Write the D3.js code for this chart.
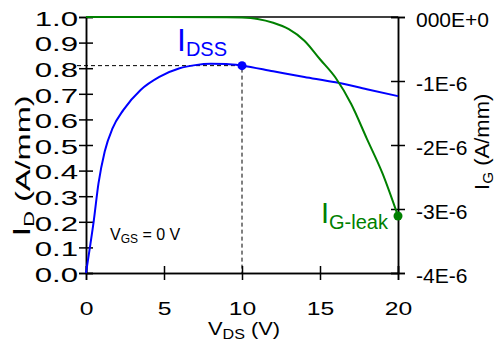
<!DOCTYPE html>
<html>
<head>
<meta charset="utf-8">
<script src="https://cdn.jsdelivr.net/npm/d3@7"></script>
<style>
  html, body { margin: 0; padding: 0; background: #fff; }
  svg { display: block; font-family: "Liberation Sans", Arial, sans-serif; }
</style>
</head>
<body>
<svg id="chart" width="496" height="343"></svg>
<script>
// Drain current vs drain voltage (left axis) and gate leakage (right axis)
const vds = [0, 0.25, 0.5, 0.8, 1.2, 1.7, 2.4, 3.5, 4.7, 6, 7, 8, 9, 10, 12, 14, 16, 18, 20];
const idValues = [0, 0.1, 0.205, 0.35, 0.475, 0.565, 0.637, 0.715, 0.766, 0.8, 0.812, 0.817, 0.816, 0.81, 0.788, 0.766, 0.745, 0.718, 0.691];

const vdsGate = [0, 5, 9, 10, 11, 12, 13, 14, 15, 16, 17, 18, 19, 20];
const igValues = [0, 0, -0.003, -0.008, -0.03, -0.09, -0.19, -0.37, -0.66, -0.95, -1.36, -1.9, -2.44, -3.11]; // units of 1E-6 A/mm

const xTicks = [0, 5, 10, 15, 20];
const yLeftTicks = [0, 0.1, 0.2, 0.3, 0.4, 0.5, 0.6, 0.7, 0.8, 0.9, 1.0];
const yRightTicks = [0, -1, -2, -3, -4];
const yRightLabels = ["000E+0", "-1E-6", "-2E-6", "-3E-6", "-4E-6"];

const idssPoint = { v: 10, i: 0.81 };
const igLeakPoint = { v: 20, i: -3.11 };

const blue = "#0000ff";
const green = "#008000";

const svg = d3.select("#chart");
svg.append("rect").attr("width", 496).attr("height", 343).attr("fill", "#fff");

const x = d3.scaleLinear().domain([0, 20]).range([86, 398]);
const yL = d3.scaleLinear().domain([0, 1]).range([273, 17]);
const yR = d3.scaleLinear().domain([-4, 0]).range([273, 17]);

const axisColor = "#000";

function styleAxis(g) {
  g.selectAll(".domain").attr("stroke", axisColor).attr("stroke-width", 1.5);
  g.selectAll(".tick line").attr("stroke", axisColor).attr("stroke-width", 1.5);
  g.selectAll("text").attr("fill", "#000").attr("font-family", "Liberation Sans, Arial, sans-serif");
}

// top frame line
svg.append("line")
  .attr("x1", x(0)).attr("x2", x(20))
  .attr("y1", yL(1)).attr("y2", yL(1))
  .attr("stroke", axisColor).attr("stroke-width", 1.5);

// left axis: outward ticks with labels, then inward ticks
const gL = svg.append("g").attr("transform", `translate(${x(0)},0)`)
  .call(d3.axisLeft(yL).tickValues(yLeftTicks).tickSize(7).tickFormat(d3.format(".1f")));
gL.call(styleAxis);
gL.selectAll("text")
  .attr("font-size", 19.5)
  .attr("x", -8 / 1.6)
  .attr("dy", "0.43em")
  .attr("transform", "scale(1.6,1)");
const gL2 = svg.append("g").attr("transform", `translate(${x(0)},0)`)
  .call(d3.axisLeft(yL).tickValues(yLeftTicks).tickSize(-7).tickFormat(""));
gL2.call(styleAxis);

// bottom axis
const gB = svg.append("g").attr("transform", `translate(0,${yL(0)})`)
  .call(d3.axisBottom(x).tickValues(xTicks).tickSize(7).tickFormat(d3.format("d")));
gB.call(styleAxis);
gB.selectAll("text")
  .attr("font-size", 19)
  .attr("y", 42)
  .attr("dy", 0)
  .attr("transform", "scale(1.3,1)");
const gB2 = svg.append("g").attr("transform", `translate(0,${yL(0)})`)
  .call(d3.axisBottom(x).tickValues(xTicks).tickSize(-7).tickFormat(""));
gB2.call(styleAxis);

// right axis
const gR = svg.append("g").attr("transform", `translate(${x(20)},0)`)
  .call(d3.axisRight(yR).tickValues(yRightTicks).tickSize(7)
    .tickFormat((d, i) => yRightLabels[i]));
gR.call(styleAxis);
gR.selectAll("text")
  .attr("font-size", 21)
  .attr("x", 18)
  .attr("dy", "0.43em");
const gR2 = svg.append("g").attr("transform", `translate(${x(20)},0)`)
  .call(d3.axisRight(yR).tickValues(yRightTicks).tickSize(-7).tickFormat(""));
gR2.call(styleAxis);

// dashed guides to the IDSS point
svg.append("path")
  .attr("d", `M${x(0) - 9},${yL(idssPoint.i)}H${x(idssPoint.v)}V${yL(0)}`)
  .attr("fill", "none")
  .attr("stroke", "#000")
  .attr("stroke-width", 1)
  .attr("stroke-dasharray", "4,3");

// drain current curve
const lineD = d3.line().x((d, i) => x(vds[i])).y(d => yL(d)).curve(d3.curveMonotoneX);
svg.append("path")
  .datum(idValues)
  .attr("d", lineD)
  .attr("fill", "none")
  .attr("stroke", blue)
  .attr("stroke-width", 2);

// gate leakage curve
const lineG = d3.line().x((d, i) => x(vdsGate[i])).y(d => yR(d)).curve(d3.curveMonotoneX);
svg.append("path")
  .datum(igValues)
  .attr("d", lineG)
  .attr("fill", "none")
  .attr("stroke", green)
  .attr("stroke-width", 2);

// highlighted points
svg.append("circle")
  .attr("cx", x(idssPoint.v)).attr("cy", yL(idssPoint.i))
  .attr("r", 4.5).attr("fill", blue);
svg.append("circle")
  .attr("cx", x(igLeakPoint.v)).attr("cy", yR(igLeakPoint.i))
  .attr("r", 4.5).attr("fill", green);

// point labels
const tDss = svg.append("text").attr("x", 177).attr("y", 51).attr("fill", blue);
tDss.append("tspan").attr("font-size", 32).text("I");
tDss.append("tspan").attr("font-size", 20).attr("dx", 0).attr("dy", 5).text("DSS");

const tLeak = svg.append("text").attr("x", 321).attr("y", 223).attr("fill", green);
tLeak.append("tspan").attr("font-size", 29).text("I");
tLeak.append("tspan").attr("font-size", 20).attr("dx", 0).attr("dy", 6).text("G-leak");

const tVgs = svg.append("text").attr("x", 110).attr("y", 240).attr("fill", "#000");
tVgs.append("tspan").attr("font-size", 16).text("V");
tVgs.append("tspan").attr("font-size", 12).attr("dy", 3).text("GS");
tVgs.append("tspan").attr("font-size", 16).attr("dy", -3).text(" = 0 V");

// axis titles
const tX = svg.append("text")
  .attr("transform", `translate(${x(10) + 2},335) scale(1.15,1)`)
  .attr("text-anchor", "middle").attr("fill", "#000");
tX.append("tspan").attr("font-size", 19).text("V");
tX.append("tspan").attr("font-size", 14).attr("dy", 4).text("DS");
tX.append("tspan").attr("font-size", 19).attr("dy", -4).text(" (V)");

const tYL = svg.append("text")
  .attr("transform", "translate(30,166) rotate(-90) scale(1.55,1)")
  .attr("text-anchor", "middle").attr("fill", "#000");
tYL.append("tspan").attr("font-size", 23).text("I");
tYL.append("tspan").attr("font-size", 14).attr("dy", 4).text("D");
tYL.append("tspan").attr("font-size", 21).attr("dy", -4).text(" (A/mm)");

const tYR = svg.append("text")
  .attr("transform", "translate(489,142) rotate(-90) scale(1.1,1)")
  .attr("text-anchor", "middle").attr("fill", "#000");
tYR.append("tspan").attr("font-size", 21).text("I");
tYR.append("tspan").attr("font-size", 14).attr("dy", 4).text("G");
tYR.append("tspan").attr("font-size", 20).attr("dy", -4).text(" (A/mm)");
</script>
</body>
</html>
